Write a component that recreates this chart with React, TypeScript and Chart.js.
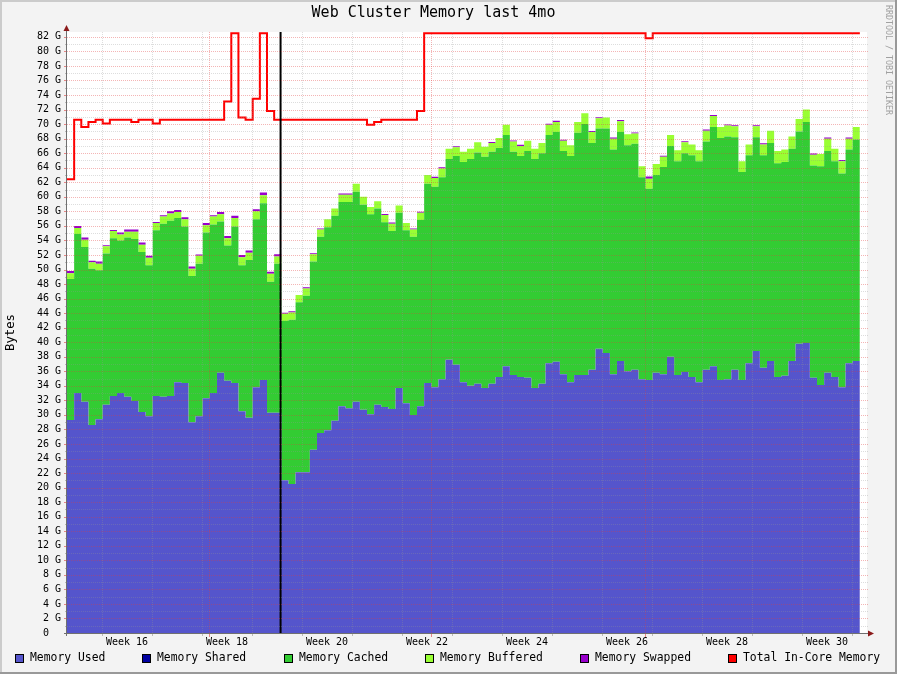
import React, { useEffect, useRef } from 'react';
import { Chart, registerables } from 'chart.js';

Chart.register(...registerables);

const CHART_TITLE = 'Web Cluster Memory last 4mo';
const Y_AXIS_TITLE = 'Bytes';
const WATERMARK = 'RRDTOOL / TOBI OETIKER';

// one sample per day (GiB), day 0 = first sample
const memoryUsed = [
  29.3, 33.0, 31.8, 28.6, 29.4, 31.4, 32.6, 33.0, 32.5, 31.9,
  30.4, 29.8, 32.6, 32.5, 32.6, 34.5, 34.4, 29.0, 29.8, 32.3,
  33.0, 35.8, 34.7, 34.4, 30.5, 29.6, 33.8, 34.8, 30.3, 30.3,
  21.0, 20.5, 22.1, 22.1, 25.2, 27.5, 27.9, 29.2, 31.2, 30.9,
  31.8, 30.7, 30.1, 31.4, 31.1, 30.8, 33.7, 31.6, 30.0, 31.2,
  34.4, 33.8, 34.9, 37.6, 36.9, 34.5, 34.0, 34.3, 33.7, 34.3,
  35.2, 36.7, 35.5, 35.2, 35.1, 33.7, 34.3, 37.1, 37.3, 35.6,
  34.5, 35.5, 35.5, 36.2, 39.1, 38.5, 35.6, 37.4, 36.0, 36.2,
  34.9, 34.8, 35.8, 35.6, 38.0, 35.5, 35.9, 35.2, 34.5, 36.2,
  36.7, 34.8, 34.9, 36.2, 34.8, 37.1, 38.8, 36.5, 37.4, 35.2,
  35.4, 37.4, 39.8, 39.9, 35.1, 34.1, 35.8, 35.2, 33.8, 37.1,
  37.4,
];
const memoryShared = [
  0, 0, 0, 0, 0, 0, 0, 0, 0, 0, 0, 0, 0, 0, 0, 0, 0, 0, 0, 0,
  0, 0, 0, 0, 0, 0, 0, 0, 0, 0, 0, 0, 0, 0, 0, 0, 0, 0, 0, 0,
  0, 0, 0, 0, 0, 0, 0, 0, 0, 0, 0, 0, 0, 0, 0, 0, 0, 0, 0, 0,
  0, 0, 0, 0, 0, 0, 0, 0, 0, 0, 0, 0, 0, 0, 0, 0, 0, 0, 0, 0,
  0, 0, 0, 0, 0, 0, 0, 0, 0, 0, 0, 0, 0, 0, 0, 0, 0, 0, 0, 0,
  0, 0, 0, 0, 0, 0, 0, 0, 0, 0, 0,
];
const memoryCached = [
  19.4, 21.9, 21.3, 21.5, 20.5, 20.8, 21.7, 21.0, 21.9, 22.3,
  22.0, 20.8, 22.8, 23.8, 24.1, 22.6, 21.5, 20.1, 21.0, 22.8,
  23.2, 20.8, 18.6, 21.5, 20.1, 21.7, 23.1, 24.3, 18.0, 20.5,
  21.9, 22.6, 23.4, 24.3, 25.9, 27.0, 27.9, 28.2, 28.1, 28.4,
  28.9, 28.2, 27.5, 27.0, 25.4, 24.5, 24.1, 23.8, 24.5, 25.6,
  27.4, 27.6, 27.8, 27.6, 28.7, 30.3, 31.2, 31.8, 31.8, 31.9,
  31.5, 31.8, 30.7, 30.4, 31.2, 31.5, 31.7, 31.4, 31.6, 30.7,
  31.1, 33.3, 34.5, 31.2, 30.3, 30.9, 30.9, 31.5, 31.1, 31.1,
  27.8, 26.3, 27.2, 28.5, 29.0, 29.4, 30.1, 30.5, 30.4, 31.4,
  32.9, 33.3, 33.4, 32.0, 28.6, 28.6, 29.4, 29.2, 30.0, 29.4,
  29.4, 29.2, 29.2, 30.4, 29.2, 30.1, 30.5, 29.7, 29.4, 29.4,
  30.5,
];
const memoryBuffered = [
  0.8, 0.8, 1.0, 0.9, 0.9, 1.0, 1.0, 0.8, 0.8, 1.0,
  1.0, 1.0, 1.0, 1.0, 1.0, 0.8, 1.0, 1.0, 1.1, 1.0,
  1.1, 1.0, 1.0, 1.2, 1.1, 1.0, 1.1, 1.1, 1.1, 1.0,
  1.0, 1.0, 1.0, 1.0, 1.0, 1.0, 1.1, 1.0, 1.0, 1.0,
  1.1, 1.1, 1.0, 1.0, 1.0, 1.0, 1.0, 1.0, 1.0, 1.0,
  1.2, 1.2, 1.2, 1.4, 1.2, 1.4, 1.4, 1.4, 1.4, 1.2,
  1.4, 1.4, 1.4, 1.4, 1.4, 1.4, 1.4, 1.4, 1.4, 1.4,
  1.5, 1.5, 1.5, 1.5, 1.4, 1.5, 1.5, 1.5, 1.5, 1.4,
  1.5, 1.4, 1.5, 1.4, 1.5, 1.5, 1.5, 1.5, 1.5, 1.5,
  1.5, 1.5, 1.5, 1.5, 1.5, 1.5, 1.5, 1.5, 1.7, 1.7,
  1.7, 1.7, 1.7, 1.7, 1.5, 1.7, 1.7, 1.7, 1.7, 1.5,
  1.7,
];
const memorySwapped = [
  0.3, 0.3, 0.3, 0.2, 0.3, 0.15, 0.15, 0.3, 0.3, 0.3,
  0.3, 0.3, 0.15, 0.15, 0.3, 0.3, 0.3, 0.3, 0.15, 0.3,
  0.15, 0.3, 0.3, 0.3, 0.3, 0.3, 0.3, 0.4, 0.3, 0.3,
  0.15, 0.15, 0, 0.15, 0.15, 0.15, 0, 0, 0.15, 0.15,
  0, 0, 0, 0, 0.15, 0.15, 0, 0, 0.15, 0.15,
  0, 0.15, 0.15, 0, 0.15, 0, 0, 0, 0, 0.15,
  0, 0, 0.15, 0.15, 0, 0, 0, 0.15, 0.15, 0.15,
  0, 0, 0, 0.15, 0.15, 0, 0.15, 0.15, 0, 0.15,
  0, 0.3, 0, 0.15, 0, 0, 0.15, 0, 0, 0.15,
  0.15, 0, 0.15, 0.15, 0, 0, 0.15, 0.15, 0, 0,
  0, 0, 0, 0, 0.15, 0, 0.15, 0, 0.15, 0.15,
  0,
];
const totalInCore = [
  62.4, 70.6, 69.6, 70.3, 70.6, 70.1, 70.6, 70.6, 70.6, 70.3,
  70.6, 70.6, 70.1, 70.6, 70.6, 70.6, 70.6, 70.6, 70.6, 70.6,
  70.6, 70.6, 73.1, 82.5, 70.9, 70.6, 73.5, 82.5, 71.8, 70.6,
  70.6, 70.6, 70.6, 70.6, 70.6, 70.6, 70.6, 70.6, 70.6, 70.6,
  70.6, 70.6, 69.9, 70.3, 70.6, 70.6, 70.6, 70.6, 70.6, 71.8,
  82.5, 82.5, 82.5, 82.5, 82.5, 82.5, 82.5, 82.5, 82.5, 82.5,
  82.5, 82.5, 82.5, 82.5, 82.5, 82.5, 82.5, 82.5, 82.5, 82.5,
  82.5, 82.5, 82.5, 82.5, 82.5, 82.5, 82.5, 82.5, 82.5, 82.5,
  82.5, 81.8, 82.5, 82.5, 82.5, 82.5, 82.5, 82.5, 82.5, 82.5,
  82.5, 82.5, 82.5, 82.5, 82.5, 82.5, 82.5, 82.5, 82.5, 82.5,
  82.5, 82.5, 82.5, 82.5, 82.5, 82.5, 82.5, 82.5, 82.5, 82.5,
  82.5,
];

const WEEK_LABELS = [16, 18, 20, 22, 24, 26, 28, 30];
const FIRST_WEEK = 16;
const FIRST_WEEK_START_DAY = 4.9; // day offset where week 16 begins
const WEEK_GRID_WEEKS = [16, 17, 18, 19, 20, 21, 22, 23, 24, 25, 26, 27, 28, 29, 30, 31];
const MONTH_START_DAYS = [19.9, 50.9, 80.9]; // May 1, Jun 1, Jul 1
const VRULE_DAY = 29.9;
const X_SPAN_DAYS = 112;
const Y_MAX = 82.67;
const Y_LABEL_STEP = 2;

const MONO = '"DejaVu Sans Mono", monospace';
const COLOR_USED = '#5555CC';
const COLOR_SHARED = '#0000A0';
const COLOR_CACHED = '#33CC33';
const COLOR_BUFFERED = '#99FF33';
const COLOR_SWAPPED = '#9900CC';
const COLOR_TOTAL = '#FF0000';
const GRID_MINOR = 'rgba(150,150,150,0.32)';
const GRID_MAJOR = 'rgba(225,60,60,0.38)';
const TICK_MINOR = 'rgba(150,150,150,0.6)';
const TICK_MAJOR = 'rgba(225,60,60,0.6)';
const AXIS_COLOR = '#707070';
const ARROW_COLOR = '#8B1A1A';

const toPoints = (arr: number[]) =>
  arr.map((v, i) => ({ x: i, y: v })).concat([{ x: arr.length, y: arr[arr.length - 1] }]);

const weekStart = (w: number) => FIRST_WEEK_START_DAY + (w - FIRST_WEEK) * 7;

const rrdPlugin = {
  id: 'rrdLook',
  beforeDraw(chart: any) {
    const { ctx, width, height, chartArea: a } = chart;
    ctx.save();
    ctx.fillStyle = '#F3F3F3';
    ctx.fillRect(0, 0, width, height);
    ctx.fillStyle = '#CBCBCB';
    ctx.fillRect(0, 0, width, 2);
    ctx.fillRect(0, 0, 2, height);
    ctx.fillStyle = '#999999';
    ctx.fillRect(0, height - 2, width, 2);
    ctx.fillRect(width - 2, 0, 2, height);
    ctx.fillStyle = '#FFFFFF';
    ctx.fillRect(a.left, a.top, a.right - a.left, a.bottom - a.top);
    ctx.restore();
  },
  afterDatasetsDraw(chart: any) {
    const { ctx, chartArea: a, scales } = chart;
    const xs = scales.x;
    const ys = scales.y;
    ctx.save();
    ctx.lineWidth = 1;
    // horizontal grid
    for (let g = 1; g <= Math.floor(Y_MAX); g++) {
      const y = Math.round(ys.getPixelForValue(g)) + 0.5;
      const major = g % Y_LABEL_STEP === 0;
      ctx.strokeStyle = major ? GRID_MAJOR : GRID_MINOR;
      ctx.setLineDash([1, 1]);
      ctx.beginPath();
      ctx.moveTo(a.left, y);
      ctx.lineTo(a.right + 2, y);
      ctx.stroke();
      ctx.setLineDash([]);
      ctx.strokeStyle = major ? TICK_MAJOR : TICK_MINOR;
      ctx.beginPath();
      const tl = major ? 3 : 2;
      ctx.moveTo(a.left - tl, y);
      ctx.lineTo(a.left, y);
      ctx.stroke();
    }
    // vertical week grid
    WEEK_GRID_WEEKS.forEach((w) => {
      const d = weekStart(w);
      if (d <= 0 || d >= X_SPAN_DAYS) return;
      const x = Math.round(xs.getPixelForValue(d)) + 0.5;
      ctx.strokeStyle = GRID_MINOR;
      ctx.setLineDash([1, 1]);
      ctx.beginPath();
      ctx.moveTo(x, a.top);
      ctx.lineTo(x, a.bottom);
      ctx.stroke();
      ctx.setLineDash([]);
      ctx.strokeStyle = TICK_MINOR;
      ctx.beginPath();
      ctx.moveTo(x, a.bottom);
      ctx.lineTo(x, a.bottom + 3);
      ctx.stroke();
    });
    MONTH_START_DAYS.forEach((d) => {
      const x = Math.round(xs.getPixelForValue(d)) + 0.5;
      ctx.strokeStyle = GRID_MAJOR;
      ctx.setLineDash([1, 1]);
      ctx.beginPath();
      ctx.moveTo(x, a.top);
      ctx.lineTo(x, a.bottom);
      ctx.stroke();
      ctx.setLineDash([]);
      ctx.strokeStyle = TICK_MAJOR;
      ctx.beginPath();
      ctx.moveTo(x, a.bottom);
      ctx.lineTo(x, a.bottom + 4);
      ctx.stroke();
    });
    // axes
    ctx.setLineDash([]);
    ctx.strokeStyle = AXIS_COLOR;
    ctx.beginPath();
    ctx.moveTo(a.left - 0.5, a.bottom + 3);
    ctx.lineTo(a.left - 0.5, a.top - 2);
    ctx.moveTo(a.left - 3, a.bottom + 0.5);
    ctx.lineTo(a.right + 1, a.bottom + 0.5);
    ctx.stroke();
    ctx.fillStyle = ARROW_COLOR;
    ctx.beginPath();
    ctx.moveTo(a.left - 3.5, a.top - 1);
    ctx.lineTo(a.left + 2.5, a.top - 1);
    ctx.lineTo(a.left - 0.5, a.top - 7);
    ctx.closePath();
    ctx.fill();
    ctx.beginPath();
    ctx.moveTo(a.right + 1, a.bottom - 2.5);
    ctx.lineTo(a.right + 1, a.bottom + 3.5);
    ctx.lineTo(a.right + 7, a.bottom + 0.5);
    ctx.closePath();
    ctx.fill();
    ctx.restore();
  },
  afterDraw(chart: any) {
    const { ctx } = chart;
    const items = chart.data.datasets.filter((d: any) => d.legendColor);
    ctx.save();
    ctx.font = `11.4px ${MONO}`;
    ctx.textBaseline = 'middle';
    ctx.textAlign = 'left';
    const box = 9;
    const gapText = 6;
    const widths = items.map((it: any) => box + gapText + ctx.measureText(it.label).width);
    const startX = 15;
    const endX = 880;
    const total = widths.reduce((s: number, w: number) => s + w, 0);
    const gap = (endX - startX - total) / (items.length - 1);
    let x = startX;
    const cy = 658.5;
    items.forEach((it: any, i: number) => {
      ctx.fillStyle = '#000000';
      ctx.fillRect(Math.round(x), 654, box, box);
      ctx.fillStyle = it.legendColor;
      ctx.fillRect(Math.round(x) + 1, 655, box - 2, box - 2);
      ctx.fillStyle = '#000000';
      ctx.fillText(it.label, Math.round(x) + box + gapText, cy);
      x += widths[i] + gap;
    });
    // watermark
    ctx.translate(888.5, 5);
    ctx.rotate(Math.PI / 2);
    ctx.font = `8.3px ${MONO}`;
    ctx.fillStyle = '#A0A0A0';
    ctx.textBaseline = 'middle';
    ctx.fillText(WATERMARK, 0, 0);
    ctx.restore();
  },
};

const area = (label: string, data: number[], color: string, fill: any) => ({
  label,
  data: toPoints(data),
  backgroundColor: color,
  borderColor: 'transparent',
  borderWidth: 0,
  fill,
  stepped: true,
  pointRadius: 0,
  pointHitRadius: 0,
  order: 2,
  legendColor: color,
});

const TITLE_SIZE = 15;

export default function App() {
  const ref = useRef<HTMLCanvasElement>(null);
  useEffect(() => {
    const canvas = ref.current;
    if (!canvas) return;
    const chart = new Chart(canvas, {
      type: 'line',
      data: {
        datasets: [
          area('Memory Used', memoryUsed, COLOR_USED, 'origin'),
          area('Memory Shared', memoryShared, COLOR_SHARED, '-1'),
          area('Memory Cached', memoryCached, COLOR_CACHED, '-1'),
          area('Memory Buffered', memoryBuffered, COLOR_BUFFERED, '-1'),
          area('Memory Swapped', memorySwapped, COLOR_SWAPPED, '-1'),
          {
            label: 'Total In-Core Memory',
            data: toPoints(totalInCore),
            borderColor: COLOR_TOTAL,
            backgroundColor: COLOR_TOTAL,
            borderWidth: 2,
            fill: false,
            stepped: true,
            pointRadius: 0,
            pointHitRadius: 0,
            stack: 'total',
            order: 1,
            legendColor: COLOR_TOTAL,
          } as any,
          {
            label: 'vrule',
            data: [
              { x: VRULE_DAY, y: 0 },
              { x: VRULE_DAY, y: Y_MAX },
            ],
            borderColor: '#000000',
            borderWidth: 2,
            fill: false,
            pointRadius: 0,
            pointHitRadius: 0,
            stack: 'vrule',
            order: 0,
          } as any,
        ],
      },
      options: {
        responsive: false,
        animation: false,
        events: [],
        layout: { padding: { left: 0, right: 30, top: 0, bottom: 0 } },
        plugins: {
          legend: { display: false },
          tooltip: { enabled: false },
          title: {
            display: true,
            text: CHART_TITLE,
            color: '#000000',
            font: { family: MONO, size: TITLE_SIZE, weight: 'normal', lineHeight: 1.2 },
            padding: { top: 4, bottom: 32 - 4 - TITLE_SIZE * 1.2 },
          },
        },
        scales: {
          x: {
            type: 'linear',
            min: 0,
            max: X_SPAN_DAYS,
            grid: { display: false, drawTicks: false },
            border: { display: false },
            afterBuildTicks: (axis: any) => {
              axis.ticks = WEEK_LABELS.map((w) => ({ value: weekStart(w) + 3.5 }));
            },
            afterFit: (axis: any) => {
              axis.height = 41;
            },
            ticks: {
              autoSkip: false,
              maxRotation: 0,
              minRotation: 0,
              padding: 3,
              color: '#000000',
              font: { family: MONO, size: 10 },
              callback: (_v: any, i: number) => `Week ${WEEK_LABELS[i]}`,
            },
          },
          y: {
            type: 'linear',
            min: 0,
            max: Y_MAX,
            stacked: true,
            grid: { display: false, drawTicks: false },
            border: { display: false },
            afterFit: (axis: any) => {
              axis.width = 67;
            },
            title: {
              display: true,
              text: Y_AXIS_TITLE,
              color: '#000000',
              font: { family: MONO, size: 12.3 },
              padding: { top: 3, bottom: 0 },
            },
            ticks: {
              stepSize: Y_LABEL_STEP,
              includeBounds: false,
              autoSkip: false,
              padding: 6,
              color: '#000000',
              font: { family: MONO, size: 10 },
              callback: (v: any) => (Number(v) === 0 ? '0  ' : `${v} G`),
            },
          },
        },
      } as any,
      plugins: [rrdPlugin],
    });
    return () => chart.destroy();
  }, []);
  return (
    <div style={{ position: 'fixed', left: 0, top: 0, width: 897, height: 674 }}>
      <canvas ref={ref} width={897} height={674} style={{ display: 'block', width: 897, height: 674 }} />
    </div>
  );
}
